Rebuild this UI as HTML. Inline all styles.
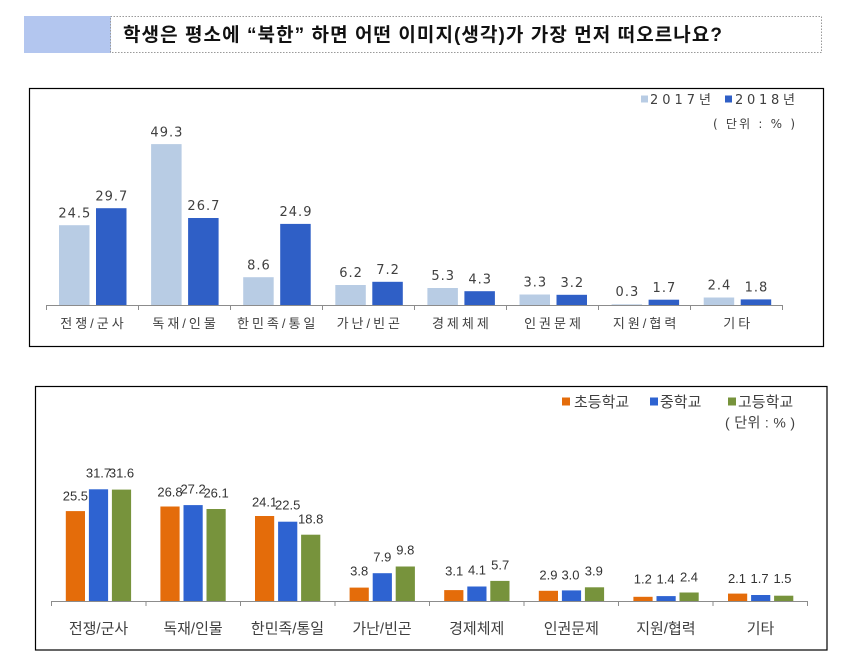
<!DOCTYPE html>
<html>
<head>
<meta charset="utf-8">
<style>
  html,body{margin:0;padding:0;background:#fff;}
  svg{display:block;}
  .t{font-family:"Liberation Sans","Noto Sans CJK KR",sans-serif;}
  .d{font-family:"DejaVu Sans","Noto Sans CJK KR",sans-serif;}
</style>
</head>
<body>
<svg width="846" height="671" viewBox="0 0 846 671" xmlns="http://www.w3.org/2000/svg">
  <rect x="0" y="0" width="846" height="671" fill="#ffffff"/>

  <!-- Title -->
  <rect x="24" y="16" width="87" height="37" fill="#b3c6ef"/>
  <rect x="110.5" y="16.5" width="711" height="36" fill="none" stroke="#9a9a9a" stroke-width="1" stroke-dasharray="1.5,1.5"/>
  <text class="t" x="123" y="41" font-size="19" font-weight="bold" fill="#111" textLength="599" lengthAdjust="spacing">학생은 평소에 “북한” 하면 어떤 이미지(생각)가 가장 먼저 떠오르나요?</text>

  <!-- ============ Chart 1 ============ -->
  <rect x="29.5" y="88.5" width="794" height="258" fill="none" stroke="#000" stroke-width="1.2"/>

  <!-- legend -->
  <rect x="641" y="95.5" width="7" height="7" fill="#b8cce4"/>
  <text class="d" x="650" y="104" font-size="13" fill="#404040" textLength="61" lengthAdjust="spacing">2017년</text>
  <rect x="725" y="95.5" width="7" height="7" fill="#2f5fc6"/>
  <text class="d" x="735" y="104" font-size="13" fill="#404040" textLength="60" lengthAdjust="spacing">2018년</text>
  <text class="d" x="713" y="128" font-size="12" fill="#404040" textLength="82" lengthAdjust="spacing">( 단위 : % )</text>

  <!-- bars 2017 -->
  <g fill="#b8cce4">
    <rect x="59" y="225.2" width="30.5" height="80.1"/>
    <rect x="151.1" y="144.1" width="30.5" height="161.2"/>
    <rect x="243.2" y="277.2" width="30.5" height="28.1"/>
    <rect x="335.3" y="285" width="30.5" height="20.3"/>
    <rect x="427.4" y="288" width="30.5" height="17.3"/>
    <rect x="519.5" y="294.5" width="30.5" height="10.8"/>
    <rect x="611.6" y="304.3" width="30.5" height="1"/>
    <rect x="703.7" y="297.5" width="30.5" height="7.8"/>
  </g>
  <!-- bars 2018 -->
  <g fill="#2f5fc6">
    <rect x="96" y="208.2" width="30.5" height="97.1"/>
    <rect x="188.1" y="218" width="30.5" height="87.3"/>
    <rect x="280.2" y="223.9" width="30.5" height="81.4"/>
    <rect x="372.3" y="281.8" width="30.5" height="23.5"/>
    <rect x="464.4" y="291.2" width="30.5" height="14.1"/>
    <rect x="556.5" y="294.8" width="30.5" height="10.5"/>
    <rect x="648.6" y="299.7" width="30.5" height="5.6"/>
    <rect x="740.7" y="299.4" width="30.5" height="5.9"/>
  </g>

  <!-- axis -->
  <g stroke="#8c8c8c" stroke-width="1">
    <line x1="46" y1="305.5" x2="783" y2="305.5"/>
    <line x1="46.5" y1="305" x2="46.5" y2="310"/>
    <line x1="138.5" y1="305" x2="138.5" y2="310"/>
    <line x1="230.5" y1="305" x2="230.5" y2="310"/>
    <line x1="322.5" y1="305" x2="322.5" y2="310"/>
    <line x1="414.5" y1="305" x2="414.5" y2="310"/>
    <line x1="506.5" y1="305" x2="506.5" y2="310"/>
    <line x1="598.5" y1="305" x2="598.5" y2="310"/>
    <line x1="690.5" y1="305" x2="690.5" y2="310"/>
    <line x1="782.5" y1="305" x2="782.5" y2="310"/>
  </g>

  <!-- value labels chart 1 -->
  <g class="d" font-size="13" fill="#404040" text-anchor="middle" letter-spacing="1">
    <text x="74.8" y="217.4">24.5</text>
    <text x="166.9" y="136.3">49.3</text>
    <text x="259" y="269.4">8.6</text>
    <text x="351.1" y="277.2">6.2</text>
    <text x="443.2" y="280.2">5.3</text>
    <text x="535.3" y="286.7">3.3</text>
    <text x="627.4" y="296">0.3</text>
    <text x="719.5" y="289.7">2.4</text>

    <text x="111.8" y="200.4">29.7</text>
    <text x="203.9" y="210.2">26.7</text>
    <text x="296" y="216.1">24.9</text>
    <text x="388.1" y="274">7.2</text>
    <text x="480.2" y="283.4">4.3</text>
    <text x="572.3" y="287">3.2</text>
    <text x="664.4" y="291.9">1.7</text>
    <text x="756.5" y="291.6">1.8</text>
  </g>

  <!-- category labels chart 1 -->
  <g class="t" font-size="13" fill="#404040" text-anchor="middle" letter-spacing="3">
    <text x="93.5" y="328">전쟁/군사</text>
    <text x="185.6" y="328">독재/인물</text>
    <text x="277.7" y="328">한민족/통일</text>
    <text x="369.8" y="328">가난/빈곤</text>
    <text x="461.9" y="328">경제체제</text>
    <text x="554" y="328">인권문제</text>
    <text x="646.1" y="328">지원/협력</text>
    <text x="738.2" y="328">기타</text>
  </g>

  <!-- ============ Chart 2 ============ -->
  <rect x="35.5" y="386.5" width="791.5" height="263.5" fill="none" stroke="#000" stroke-width="1.2"/>

  <!-- legend -->
  <rect x="562" y="397.5" width="8" height="8" fill="#e46c0a"/>
  <text class="t" x="574" y="407" font-size="15" fill="#404040">초등학교</text>
  <rect x="650" y="397.5" width="8" height="8" fill="#2e63d1"/>
  <text class="t" x="660" y="407" font-size="15" fill="#404040">중학교</text>
  <rect x="728" y="397.5" width="8" height="8" fill="#77933c"/>
  <text class="t" x="738" y="407" font-size="15" fill="#404040">고등학교</text>
  <text class="t" x="725" y="427.7" font-size="14" fill="#404040" textLength="70" lengthAdjust="spacing">( 단위 : % )</text>

  <!-- bars elementary -->
  <g fill="#e46c0a">
    <rect x="65.8" y="511.1" width="19.2" height="89.9"/>
    <rect x="160.4" y="506.5" width="19.2" height="94.5"/>
    <rect x="255" y="516" width="19.2" height="85"/>
    <rect x="349.6" y="587.6" width="19.2" height="13.4"/>
    <rect x="444.2" y="590.1" width="19.2" height="10.9"/>
    <rect x="538.8" y="590.8" width="19.2" height="10.2"/>
    <rect x="633.4" y="596.8" width="19.2" height="4.2"/>
    <rect x="728" y="593.6" width="19.2" height="7.4"/>
  </g>
  <!-- bars middle -->
  <g fill="#2e63d1">
    <rect x="88.9" y="489.3" width="19.2" height="111.7"/>
    <rect x="183.5" y="505.1" width="19.2" height="95.9"/>
    <rect x="278.1" y="521.7" width="19.2" height="79.3"/>
    <rect x="372.7" y="573.2" width="19.2" height="27.8"/>
    <rect x="467.3" y="586.5" width="19.2" height="14.5"/>
    <rect x="561.9" y="590.4" width="19.2" height="10.6"/>
    <rect x="656.5" y="596.1" width="19.2" height="4.9"/>
    <rect x="751.1" y="595" width="19.2" height="6"/>
  </g>
  <!-- bars high -->
  <g fill="#77933c">
    <rect x="111.9" y="489.6" width="19.2" height="111.4"/>
    <rect x="206.5" y="509" width="19.2" height="92"/>
    <rect x="301.1" y="534.7" width="19.2" height="66.3"/>
    <rect x="395.7" y="566.5" width="19.2" height="34.5"/>
    <rect x="490.3" y="580.9" width="19.2" height="20.1"/>
    <rect x="584.9" y="587.3" width="19.2" height="13.7"/>
    <rect x="679.5" y="592.5" width="19.2" height="8.5"/>
    <rect x="774.1" y="595.7" width="19.2" height="5.3"/>
  </g>

  <!-- axis 2 -->
  <g stroke="#8c8c8c" stroke-width="1">
    <line x1="51" y1="601.5" x2="808" y2="601.5"/>
    <line x1="51.5" y1="601" x2="51.5" y2="606"/>
    <line x1="146" y1="601" x2="146" y2="606"/>
    <line x1="240.5" y1="601" x2="240.5" y2="606"/>
    <line x1="335" y1="601" x2="335" y2="606"/>
    <line x1="429.5" y1="601" x2="429.5" y2="606"/>
    <line x1="524" y1="601" x2="524" y2="606"/>
    <line x1="618.5" y1="601" x2="618.5" y2="606"/>
    <line x1="713" y1="601" x2="713" y2="606"/>
    <line x1="807.5" y1="601" x2="807.5" y2="606"/>
  </g>

  <!-- value labels chart 2 -->
  <g class="t" font-size="13" fill="#333" text-anchor="middle">
    <text x="75.4" y="500.7">25.5</text>
    <text x="98.5" y="477.7">31.7</text>
    <text x="121.5" y="477.7">31.6</text>

    <text x="170" y="496.4">26.8</text>
    <text x="193.1" y="493.7">27.2</text>
    <text x="216.1" y="497.7">26.1</text>

    <text x="264.6" y="506.4">24.1</text>
    <text x="287.7" y="509.7">22.5</text>
    <text x="310.7" y="523.7">18.8</text>

    <text x="359.2" y="575.7">3.8</text>
    <text x="382.3" y="561.4">7.9</text>
    <text x="405.3" y="554.7">9.8</text>

    <text x="454.2" y="575.7">3.1</text>
    <text x="477" y="574.7">4.1</text>
    <text x="500.2" y="569.7">5.7</text>

    <text x="548.4" y="579.7">2.9</text>
    <text x="570.5" y="579.7">3.0</text>
    <text x="593.8" y="575.7">3.9</text>

    <text x="642.8" y="583.7">1.2</text>
    <text x="665.6" y="583.7">1.4</text>
    <text x="689" y="581.4">2.4</text>

    <text x="737" y="583">2.1</text>
    <text x="759.6" y="583">1.7</text>
    <text x="782.5" y="583">1.5</text>
  </g>

  <!-- category labels chart 2 -->
  <g class="t" font-size="15" fill="#404040" text-anchor="middle">
    <text x="98.5" y="633.5">전쟁/군사</text>
    <text x="193" y="633.5">독재/인물</text>
    <text x="287.5" y="633.5">한민족/통일</text>
    <text x="382" y="633.5">가난/빈곤</text>
    <text x="476.7" y="633.5">경제체제</text>
    <text x="571.3" y="633.5">인권문제</text>
    <text x="665.9" y="633.5">지원/협력</text>
    <text x="760.5" y="633.5">기타</text>
  </g>
</svg>
</body>
</html>
